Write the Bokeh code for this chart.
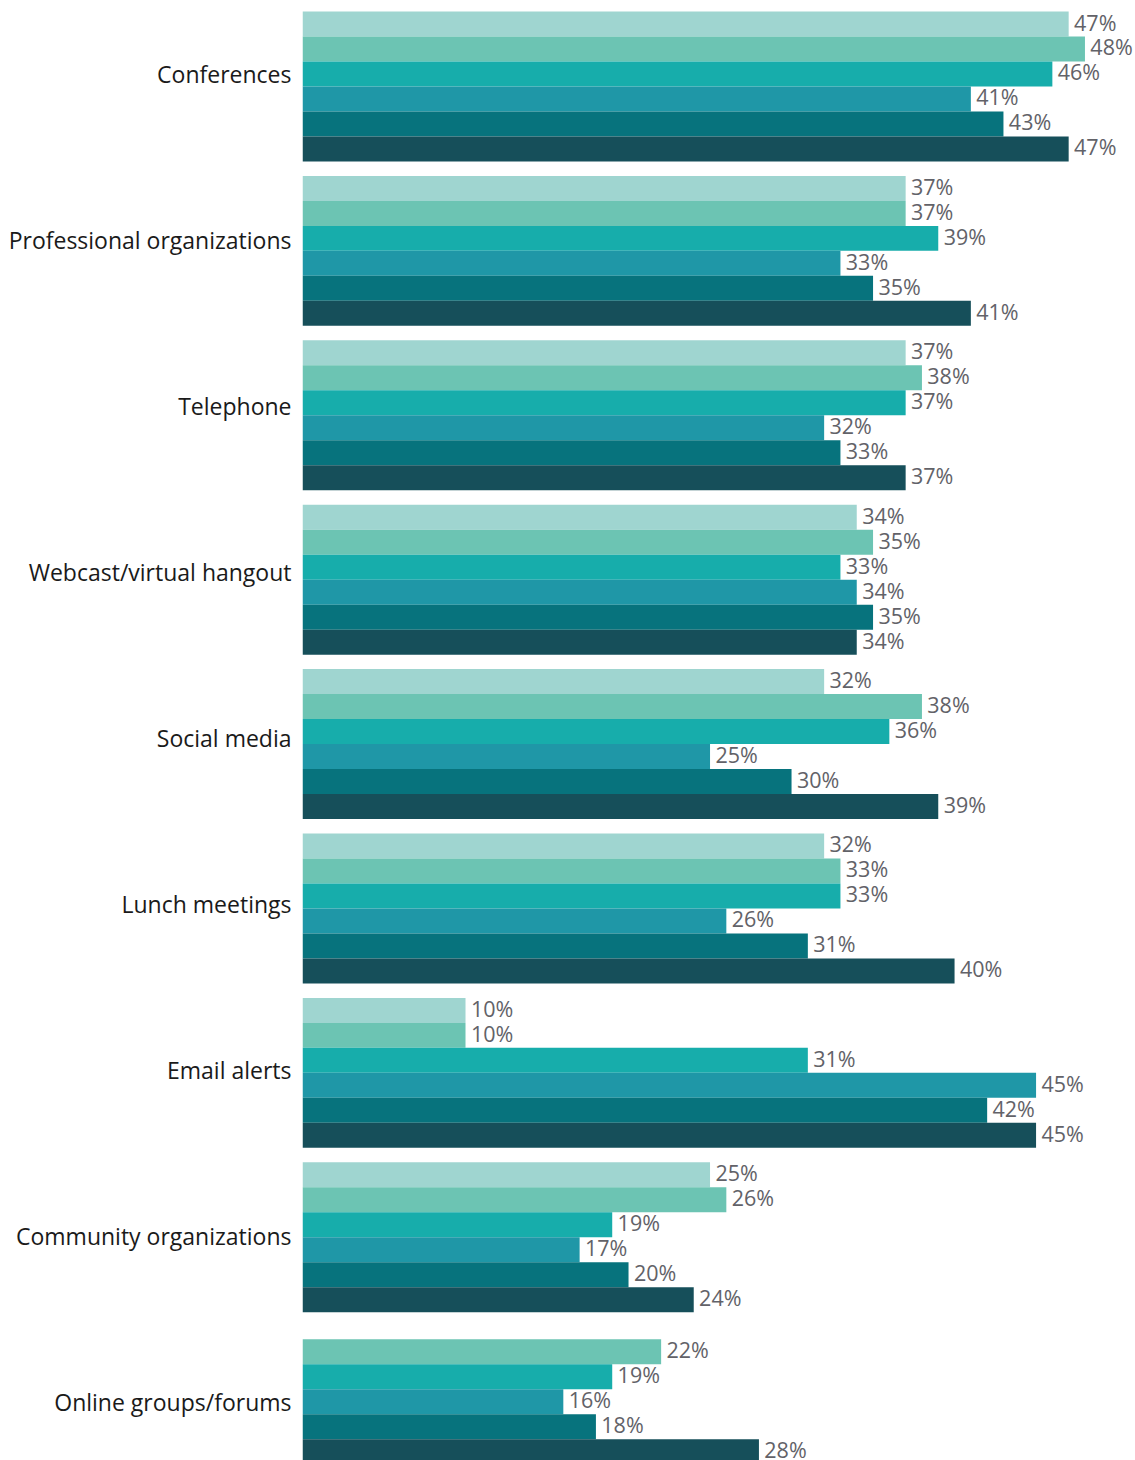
from bokeh.plotting import figure
from bokeh.models import Range1d, FixedTicker, ColumnDataSource
from bokeh.core.properties import value
from bokeh.embed import file_html
from bokeh.resources import INLINE

categories = ["Conferences", "Professional organizations", "Telephone",
              "Webcast/virtual hangout", "Social media", "Lunch meetings",
              "Email alerts", "Community organizations", "Online groups/forums"]
s1 = [47, 37, 37, 34, 32, 32, 10, 25, None]
s2 = [48, 37, 38, 35, 38, 33, 10, 26, 22]
s3 = [46, 39, 37, 33, 36, 33, 31, 19, 19]
s4 = [41, 33, 32, 34, 25, 26, 45, 17, 16]
s5 = [43, 35, 33, 35, 30, 31, 42, 20, 18]
s6 = [47, 41, 37, 34, 39, 40, 45, 24, 28]
series = [s1, s2, s3, s4, s5, s6]
colors = ["#9fd5d0", "#6cc4b3", "#17adab", "#1f97a7", "#07737d", "#164f5a"]

BAR_H = 0.152  # height of one bar in group units

ys, rights, cols, labels, lx = [], [], [], [], []
for i, cat in enumerate(categories):
    present = [(j, s[i]) for j, s in enumerate(series) if s[i] is not None]
    n = len(present)
    for k, (j, v) in enumerate(present):
        y = i + (k - (n - 1) / 2) * BAR_H
        ys.append(y)
        rights.append(v)
        cols.append(colors[j])
        labels.append(f"{v}%")
        lx.append(v + 0.33)

src = ColumnDataSource(dict(y=ys, right=rights, color=cols, label=labels, lx=lx))

p = figure(width=1135, height=1460,
           x_range=Range1d(0, 51.1), y_range=Range1d(8.358, -0.523),
           output_backend="svg", toolbar_location=None,
           min_border_left=302, min_border_right=0,
           min_border_top=0, min_border_bottom=0)

p.hbar(y="y", left=0, right="right", height=BAR_H, color="color",
       line_color=None, source=src)
p.text(x="lx", y="y", text="label", source=src, text_baseline="middle",
       text_align="left", text_font=value("Open Sans"), y_offset=-2,
       text_font_size="21.5px", text_color="#626268")

p.xaxis.visible = False
p.xgrid.visible = False
p.ygrid.visible = False
p.outline_line_color = None

# category labels sit on a slightly wider pitch than the bar groups
n_cat = len(categories)
ticks = [i - 0.073 * (1 - i / (n_cat - 1)) for i in range(n_cat)]
ya = p.yaxis[0]
ya.ticker = FixedTicker(ticks=ticks)
ya.major_label_overrides = {t: c for t, c in zip(ticks, categories)}
ya.axis_line_color = None
ya.major_tick_line_color = None
ya.minor_tick_line_color = None
ya.major_tick_in = 0
ya.major_tick_out = 0
ya.major_label_standoff = 11
ya.major_label_text_font = "Open Sans"
ya.major_label_text_font_size = "23px"
ya.major_label_text_color = "#1a1a1a"

open("out.html", "w").write(file_html(p, INLINE))
